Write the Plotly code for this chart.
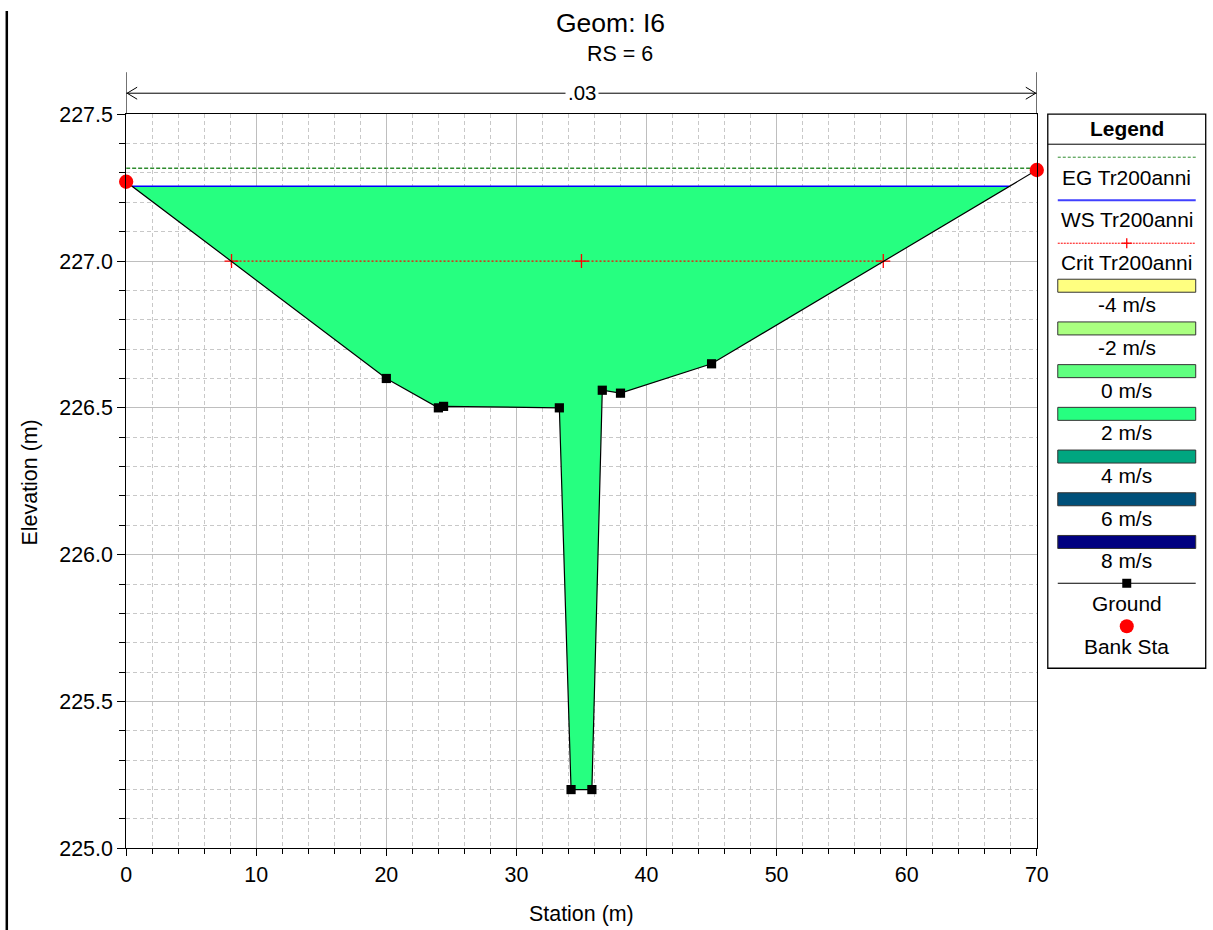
import numpy as np
import plotly.graph_objects as go

# ---------------- data ----------------
station = [0.0, 20.0, 24.0, 24.4, 33.3, 34.2, 35.8, 36.6, 38.0, 45.0, 70.0]
elevation = [227.27, 226.60, 226.50, 226.505, 226.50, 225.20, 225.20, 226.56, 226.55, 226.65, 227.31]
bank_station = [0.0, 70.0]
bank_elevation = [227.27, 227.31]
ws_elev = 227.255
eg_elev = 227.316
crit_elev = 227.0
crit_station = [8.1, 35.0, 58.2]
n_value = ".03"
series_names = ["EG Tr200anni", "WS Tr200anni", "Crit Tr200anni"]
velocity_labels = ["-4 m/s", "-2 m/s", "0 m/s", "2 m/s", "4 m/s", "6 m/s", "8 m/s"]
velocity_colors = ["#FFFF80", "#AAFF80", "#60FF80", "#26FF80", "#00A680", "#00507A", "#000080"]
x_ticks = [0, 10, 20, 30, 40, 50, 60, 70]
y_ticks = [225.0, 225.5, 226.0, 226.5, 227.0, 227.5]

FONT = "Arial, Liberation Sans, sans-serif"
OX, OY = 0, 0
W, H = 1225, 943
# empirical correction of the rendered placement
SXC, AXC, SYC, AYC = 0.9857, 5.8, 0.9755, 10.8
KF = 1 / 0.98  # font compensation


def fx(p):
    return ((p - AXC) / SXC - OX) / W


def fy(p):
    return 1 - ((p - AYC) / SYC - OY) / H


def fs(v):
    return round(v * KF, 2)


def wetted(st, el, ws):
    xs, ys = [], []
    for i in range(len(st) - 1):
        x0, y0, x1, y1 = st[i], el[i], st[i + 1], el[i + 1]
        if y0 <= ws:
            xs.append(x0)
            ys.append(y0)
        if (y0 - ws) * (y1 - ws) < 0:
            t = (ws - y0) / (y1 - y0)
            xs.append(x0 + t * (x1 - x0))
            ys.append(ws)
    if el[-1] <= ws:
        xs.append(st[-1])
        ys.append(el[-1])
    return xs, ys


fill_x, fill_y = wetted(station, elevation, ws_elev)

fig = go.Figure()
fig.add_trace(go.Scatter(x=fill_x, y=fill_y, fill="toself", fillcolor=velocity_colors[3],
                         mode="lines", line=dict(width=0), showlegend=False, hoverinfo="skip"))
fig.add_trace(go.Scatter(x=[fill_x[0], fill_x[-1]], y=[ws_elev, ws_elev], mode="lines",
                         line=dict(color="#0000FF", width=1.5), showlegend=False))
fig.add_trace(go.Scatter(x=[station[0], station[-1]], y=[eg_elev, eg_elev], mode="lines",
                         line=dict(color="#2E8B2E", width=1.3, dash="4px,2px"), showlegend=False))
fig.add_trace(go.Scatter(x=crit_station, y=[crit_elev] * len(crit_station), mode="lines+markers",
                         line=dict(color="#FF0000", width=1.2, dash="2px,2px"),
                         marker=dict(symbol="cross-thin", size=10, line=dict(color="#FF0000", width=1.3)),
                         showlegend=False))
fig.add_trace(go.Scatter(x=station, y=elevation, mode="lines+markers", cliponaxis=False,
                         line=dict(color="black", width=1.2),
                         marker=dict(symbol="square", size=9.2, color="black"), showlegend=False))
fig.add_trace(go.Scatter(x=bank_station, y=bank_elevation, mode="markers", cliponaxis=False,
                         marker=dict(symbol="circle", size=14.3, color="#FF0000"), showlegend=False))

shapes = []
annotations = []

# left window frame line
shapes.append(dict(type="line", xref="paper", yref="paper", x0=fx(6.6), x1=fx(6.6), y0=0, y1=1,
                   line=dict(color="black", width=2.5)))
# axis extensions above plot
for xv in [x_ticks[0], x_ticks[-1]]:
    shapes.append(dict(type="line", xref="x", yref="paper", x0=xv, x1=xv, y0=fy(114), y1=fy(72),
                       line=dict(color="black", width=1)))
# n-value dimension arrow
shapes.append(dict(type="line", xref="x", yref="paper", x0=x_ticks[0], x1=x_ticks[-1], y0=fy(93), y1=fy(93),
                   line=dict(color="black", width=1)))
shapes.append(dict(type="path", xref="paper", yref="paper",
                   path=f"M {fx(137)},{fy(87)} L {fx(127)},{fy(93)} L {fx(137)},{fy(99)}",
                   line=dict(color="black", width=1)))
shapes.append(dict(type="path", xref="paper", yref="paper",
                   path=f"M {fx(1026)},{fy(87)} L {fx(1036)},{fy(93)} L {fx(1026)},{fy(99)}",
                   line=dict(color="black", width=1)))
annotations.append(dict(x=fx(582), y=fy(93), xref="paper", yref="paper", text=n_value, showarrow=False,
                        font=dict(family=FONT, size=fs(20), color="black"), bgcolor="white",
                        xanchor="center", yanchor="middle", borderpad=2))

# titles
annotations.append(dict(x=fx(611), y=fy(23), xref="paper", yref="paper", text="Geom: I6", showarrow=False,
                        font=dict(family=FONT, size=fs(26), color="black"), xanchor="center", yanchor="middle"))
annotations.append(dict(x=fx(620), y=fy(54), xref="paper", yref="paper", text="RS = 6", showarrow=False,
                        font=dict(family=FONT, size=fs(21), color="black"), xanchor="center", yanchor="middle"))
annotations.append(dict(x=fx(582), y=fy(914), xref="paper", yref="paper", text="Station (m)", showarrow=False,
                        font=dict(family=FONT, size=fs(21), color="black"), xanchor="center", yanchor="middle"))
annotations.append(dict(x=fx(30), y=fy(482), xref="paper", yref="paper", text="Elevation (m)", showarrow=False,
                        textangle=-90, font=dict(family=FONT, size=fs(21), color="black"),
                        xanchor="center", yanchor="middle"))

# ---------------- custom legend ----------------
LX0, LX1, LXC = 1048, 1206, 1127
SX0, SX1 = 1058, 1196
shapes.append(dict(type="rect", xref="paper", yref="paper", x0=fx(LX0), x1=fx(LX1), y0=fy(668), y1=fy(114),
                   line=dict(color="black", width=1.3), fillcolor="white"))
shapes.append(dict(type="line", xref="paper", yref="paper", x0=fx(LX0), x1=fx(LX1), y0=fy(144), y1=fy(144),
                   line=dict(color="black", width=1)))
annotations.append(dict(x=fx(LXC), y=fy(128), xref="paper", yref="paper", text="<b>Legend</b>", showarrow=False,
                        font=dict(family=FONT, size=fs(20.5), color="black"), xanchor="center", yanchor="middle"))


def legend_text(txt, ypix):
    annotations.append(dict(x=fx(LXC), y=fy(ypix), xref="paper", yref="paper", text=txt, showarrow=False,
                            font=dict(family=FONT, size=fs(20.5), color="black"),
                            xanchor="center", yanchor="middle"))


def legend_line(ypix, color, dash, width=1):
    shapes.append(dict(type="line", xref="paper", yref="paper", x0=fx(SX0), x1=fx(SX1), y0=fy(ypix), y1=fy(ypix),
                       line=dict(color=color, width=width, dash=dash)))


legend_line(157, "#2E8B2E", "3px,2px")
legend_text(series_names[0], 177)
legend_line(200, "#4040FF", "solid", 2)
legend_text(series_names[1], 219)
legend_line(243, "#FF0000", "2px,1px")
shapes.append(dict(type="line", xref="paper", yref="paper", x0=fx(LXC - 5), x1=fx(LXC + 5), y0=fy(243), y1=fy(243),
                   line=dict(color="#FF0000", width=1.3)))
shapes.append(dict(type="line", xref="paper", yref="paper", x0=fx(LXC), x1=fx(LXC), y0=fy(238), y1=fy(248),
                   line=dict(color="#FF0000", width=1.3)))
legend_text(series_names[2], 262)

for i, (lab, col) in enumerate(zip(velocity_labels, velocity_colors)):
    top = 279 + i * 42.7
    shapes.append(dict(type="rect", xref="paper", yref="paper", x0=fx(SX0), x1=fx(SX1),
                       y0=fy(top + 13), y1=fy(top), fillcolor=col, line=dict(color="#333333", width=1)))
    legend_text(lab, top + 25.5)

legend_line(583, "black", "solid")
shapes.append(dict(type="rect", xref="paper", yref="paper", x0=fx(LXC - 4.5), x1=fx(LXC + 4.5),
                   y0=fy(587.5), y1=fy(578.5), fillcolor="black", line=dict(width=0)))
legend_text("Ground", 603)
shapes.append(dict(type="circle", xref="paper", yref="paper", x0=fx(LXC - 7), x1=fx(LXC + 7),
                   y0=fy(633), y1=fy(619), fillcolor="#FF0000", line=dict(width=0)))
legend_text("Bank Sta", 646)

fig.update_layout(
    width=W, height=H,
    margin=dict(l=0, r=0, t=0, b=0),
    paper_bgcolor="white", plot_bgcolor="white",
    showlegend=False,
    shapes=shapes, annotations=annotations,
    font=dict(family=FONT, color="black"),
)
fig.update_xaxes(
    domain=[fx(126), fx(1037)], range=[x_ticks[0], x_ticks[-1]],
    tickmode="array", tickvals=x_ticks, ticks="outside", ticklen=7, tickcolor="black",
    tickfont=dict(family=FONT, size=fs(21), color="black"),
    showline=True, linecolor="black", linewidth=1, mirror=True, zeroline=False,
    showgrid=True, gridcolor="#BEBEBE", gridwidth=1,
    minor=dict(dtick=2, tick0=0, ticks="outside", ticklen=5, tickcolor="black",
               showgrid=True, gridcolor="#C8C8C8", griddash="4px,3px", gridwidth=1),
)
fig.update_yaxes(
    domain=[fy(848), fy(114)], range=[y_ticks[0], y_ticks[-1]],
    tickmode="array", tickvals=y_ticks, tickformat=".1f", ticks="outside", ticklen=8, tickcolor="black",
    tickfont=dict(family=FONT, size=fs(21), color="black"),
    showline=True, linecolor="black", linewidth=1, mirror=True, zeroline=False,
    showgrid=True, gridcolor="#BEBEBE", gridwidth=1,
    minor=dict(dtick=0.1, tick0=225.0, ticks="outside", ticklen=6, tickcolor="black",
               showgrid=True, gridcolor="#C8C8C8", griddash="4px,3px", gridwidth=1),
)

fig.write_html("out.html", config={"displayModeBar": False},
               post_script="document.body.style.margin='0';document.body.style.overflow='hidden';")
